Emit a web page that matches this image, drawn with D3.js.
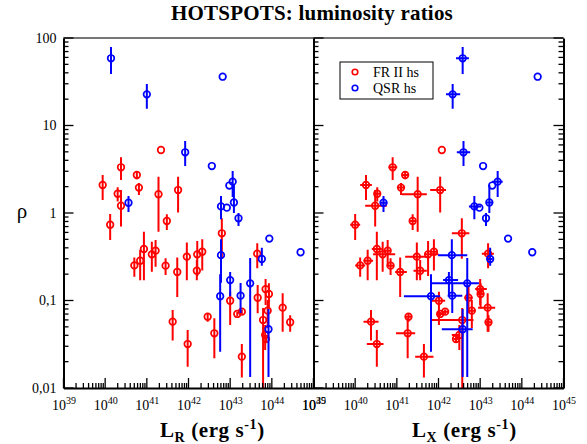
<!DOCTYPE html>
<html><head><meta charset="utf-8">
<script src="https://cdn.jsdelivr.net/npm/d3@7"></script>
<style>body{margin:0;background:#fff}svg{display:block}text{font-family:"Liberation Serif","Times New Roman",serif}</style>
</head><body><svg id="c" width="587" height="444"></svg>
<script>
// ---- data (log10 luminosities in erg/s, rho ratios) ----
const frLogLR = [39.94,40.38,40.76,41.34,40.30,40.81,41.28,41.75,40.38,40.12,41.48,42.80,40.93,41.21,41.12,40.84,40.70,41.45,41.73,41.96,42.21,42.33,42.20,43.65,41.62,41.98,42.46,42.62,43.00,43.17,43.28,43.28,43.66,43.85,43.93,43.90,43.79,43.84,43.86,44.26,44.44];
const frLogLX = [40.26,40.90,41.20,42.08,40.53,41.10,41.50,42.04,40.48,40.00,41.38,42.56,40.52,40.78,40.66,40.30,40.12,40.85,41.08,41.48,41.75,41.89,41.56,43.19,40.38,40.52,41.28,41.26,42.01,42.04,42.16,41.65,42.72,43.00,43.01,42.80,42.57,42.50,42.42,43.18,43.20];
const frLogLXLo = [40.12,40.80,41.13,42.08,40.46,41.03,41.12,41.80,40.24,39.88,41.32,42.32,40.40,40.71,40.43,40.20,40.00,40.78,40.96,41.20,41.68,41.80,41.40,43.04,40.20,40.28,41.22,40.98,41.80,41.97,42.09,41.44,42.62,42.88,42.94,42.72,41.84,42.32,42.36,42.95,43.13];
const frLogLXHi = [40.40,41.01,41.27,42.08,40.60,41.17,41.72,42.18,40.76,40.12,41.46,42.74,40.64,40.85,40.96,40.43,40.24,40.92,41.24,41.72,42.00,41.98,41.72,43.33,40.56,40.68,41.34,41.44,42.16,42.11,42.23,41.88,42.82,43.16,43.08,42.88,42.84,42.52,42.48,43.36,43.27];
const frRho   = [2.09,3.33,2.72,5.25,1.66,1.95,1.64,1.83,1.21,0.735,0.81,0.586,0.388,0.371,0.337,0.285,0.252,0.25,0.212,0.317,0.337,0.361,0.219,0.343,0.0573,0.0318,0.0653,0.0422,0.0995,0.0702,0.0745,0.0228,0.1076,0.135,0.1186,0.0766,0.0598,0.0404,0.0363,0.0828,0.0564];
const frRhoHi = [2.72,4.33,2.96,5.25,1.97,2.20,2.60,2.60,1.83,0.975,0.966,0.87,0.61,0.49,0.47,0.38,0.31,0.303,0.31,0.46,0.48,0.50,0.29,0.45,0.078,0.046,0.0715,0.0627,0.126,0.074,0.079,0.0318,0.150,0.176,0.157,0.101,0.082,0.0525,0.039,0.121,0.068];
const frRhoLo = [1.41,2.38,2.43,5.25,1.35,1.61,0.61,1.01,0.70,0.49,0.64,0.30,0.17,0.243,0.213,0.17,0.187,0.195,0.11,0.17,0.19,0.22,0.17,0.233,0.035,0.0175,0.0573,0.0219,0.0525,0.066,0.070,0.0132,0.0715,0.089,0.081,0.0485,0.005,0.0272,0.0335,0.044,0.044];

const qsLogLR = [40.14,41.00,42.82,41.92,40.56,42.56,43.06,42.98,43.09,42.78,42.92,43.20,43.94,44.69,42.78,43.76,43.48,43.00,43.25,42.76,43.92];
const qsLogLX = [42.58,42.34,44.38,42.60,40.68,43.07,43.42,43.29,43.22,42.86,42.98,43.14,43.67,44.25,42.32,43.24,42.69,42.25,42.33,41.82,42.58];
const qsLogLXLo = [42.42,42.18,44.38,42.44,40.60,43.07,43.28,43.29,43.14,42.73,42.98,43.14,43.67,44.25,41.99,43.17,41.80,42.11,42.22,41.17,42.08];
const qsLogLXHi = [42.73,42.52,44.38,42.76,40.77,43.07,43.54,43.29,43.31,43.02,42.98,43.14,43.67,44.25,42.69,43.30,42.97,42.47,42.57,42.04,42.82];
const qsRho   = [58.6,22.7,36.1,4.94,1.31,3.44,2.28,2.06,1.32,1.19,1.15,0.87,0.51,0.356,0.33,0.298,0.157,0.171,0.1135,0.112,0.0469];
const qsRhoHi = [78.9,29.8,36.1,6.65,1.56,3.44,3.02,2.06,2.09,1.56,1.15,1.0,0.51,0.356,0.50,0.40,0.306,0.212,0.158,0.20,0.08];
const qsRhoLo = [38.8,15.5,36.1,3.44,1.03,3.44,1.52,2.06,1.0,0.85,1.15,0.71,0.51,0.356,0.16,0.25,0.0134,0.112,0.072,0.026,0.0134];

const yTickValues = [0.01,0.1,1,10,100];
const yTickLabels = ["0,01","0,1","1","10","100"];
const xExponents = [39,40,41,42,43,44,45];
const seriesNames = ["FR II hs","QSR hs"];
const seriesColors = ["#ff0000","#0000ff"];

// ---- layout ----
const svg = d3.select("#c");
const yTop = 38, yBot = 388;
const y = d3.scaleLog().domain([0.01,100]).range([yBot, yTop]);
const xL = d3.scaleLog().domain([1e39,1e45]).range([63.5,313.5]);
const xR = d3.scaleLog().domain([1e39,1e45]).range([313.5,563.5]);

const minorY = [];
for (let e=-2;e<2;e++) for (let m=2;m<10;m++) minorY.push(m*Math.pow(10,e));
const minorX = [];
for (let e=39;e<45;e++) for (let m=2;m<10;m++) minorX.push(m*Math.pow(10,e));
const majorX = xExponents.map(e=>Math.pow(10,e));

// clip paths
const defs = svg.append("defs");
defs.append("clipPath").attr("id","clipL").append("rect").attr("x",63.5).attr("y",yTop).attr("width",250).attr("height",yBot-yTop);
defs.append("clipPath").attr("id","clipR").append("rect").attr("x",313.5).attr("y",yTop).attr("width",250).attr("height",yBot-yTop);

// top frame line
svg.append("line").attr("x1",63.5).attr("x2",563.5).attr("y1",yTop).attr("y2",yTop).attr("stroke","#777").attr("stroke-width",2);

// ---- data marks ----
function drawPanel(xs, clipId, withXerr){
  const g = svg.append("g").attr("clip-path",`url(#${clipId})`);
  const sets = [
    {lx: withXerr?frLogLX:frLogLR, lo: frLogLXLo, hi: frLogLXHi, r: frRho, rl: frRhoLo, rh: frRhoHi, c: seriesColors[0]},
    {lx: withXerr?qsLogLX:qsLogLR, lo: qsLogLXLo, hi: qsLogLXHi, r: qsRho, rl: qsRhoLo, rh: qsRhoHi, c: seriesColors[1]}
  ];
  sets.forEach(s=>{
    const pts = s.r.map((r,i)=>({x:Math.pow(10,s.lx[i]), xl:Math.pow(10,s.lo[i]), xh:Math.pow(10,s.hi[i]), r, rl:s.rl[i], rh:s.rh[i]}));
    const gg = g.append("g");
    gg.selectAll(".ey").data(pts.filter(p=>p.rh>p.rl)).join("line")
      .attr("x1",p=>xs(p.x)).attr("x2",p=>xs(p.x))
      .attr("y1",p=>y(p.rh)).attr("y2",p=>y(p.rl))
      .attr("stroke",s.c).attr("stroke-width",2);
    if (withXerr){
      gg.selectAll(".ex").data(pts.filter(p=>p.xh>p.xl)).join("line")
        .attr("x1",p=>xs(p.xl)).attr("x2",p=>xs(p.xh))
        .attr("y1",p=>y(p.r)).attr("y2",p=>y(p.r))
        .attr("stroke",s.c).attr("stroke-width",2);
    }
    gg.selectAll("circle").data(pts).join("circle")
      .attr("cx",p=>xs(p.x)).attr("cy",p=>y(p.r)).attr("r",3.3)
      .attr("fill","none").attr("stroke",s.c).attr("stroke-width",1.7);
  });
}
drawPanel(xL,"clipL",false);
drawPanel(xR,"clipR",true);

// ---- axes: d3 axes for domain + labels, tick marks drawn from the scales ----
const tickG = svg.append("g").attr("stroke","#000").attr("stroke-width",1.3);
function yTicks(x, dir){ // dir +1 ticks point right, -1 point left
  tickG.selectAll(null).data(minorY).join("line")
    .attr("x1",x).attr("x2",x+dir*5).attr("y1",d=>y(d)).attr("y2",d=>y(d));
  tickG.selectAll(null).data(yTickValues).join("line")
    .attr("x1",x).attr("x2",x+dir*10).attr("y1",d=>y(d)).attr("y2",d=>y(d));
}
function xTicks(xs){
  tickG.selectAll(null).data(minorX).join("line")
    .attr("y1",yBot).attr("y2",yBot-5).attr("x1",d=>xs(d)).attr("x2",d=>xs(d));
  tickG.selectAll(null).data(majorX).join("line")
    .attr("y1",yBot).attr("y2",yBot-10).attr("x1",d=>xs(d)).attr("x2",d=>xs(d));
}

function yAxis(x, leftSide, labels){
  const mk = leftSide ? d3.axisLeft : d3.axisRight;
  const g = svg.append("g").attr("transform",`translate(${x},0)`)
    .call(mk(y).tickValues(yTickValues).tickSize(0).tickSizeOuter(0).tickPadding(7)
      .tickFormat(labels ? (d,i)=>yTickLabels[i] : ""));
  g.select(".domain").attr("stroke","#000").attr("stroke-width",2);
  g.selectAll(".tick text").attr("font-size",14).attr("fill","#000")
    .attr("font-family","Liberation Serif, serif");
  yTicks(x, leftSide ? 1 : -1);
}
yAxis(63.5,true,true);
yAxis(313.5,true,false);
yAxis(563.5,false,false);

function xAxis(xs){
  const g = svg.append("g").attr("transform",`translate(0,${yBot})`)
    .call(d3.axisBottom(xs).tickValues(majorX).tickSize(0).tickSizeOuter(0).tickPadding(12));
  g.select(".domain").attr("stroke","#000").attr("stroke-width",2);
  g.selectAll(".tick text").each(function(d,i){
    const t = d3.select(this);
    t.text("10").attr("font-size",14).attr("fill","#000").attr("font-family","Liberation Serif, serif");
    t.append("tspan").attr("dy",-6).attr("font-size",10).text(xExponents[i]);
  });
  xTicks(xs);
}
xAxis(xL);
xAxis(xR);

// ---- texts ----
svg.append("text").attr("x",312).attr("y",20).attr("text-anchor","middle")
  .attr("font-size",21).attr("font-weight","bold").attr("letter-spacing",0.2)
  .text("HOTSPOTS: luminosity ratios");

svg.append("text").attr("x",22).attr("y",218).attr("text-anchor","middle")
  .attr("font-size",21).text("ρ");

function xLabel(x, sub){
  const t = svg.append("text").attr("x",x).attr("y",437).attr("text-anchor","start")
    .attr("font-size",21).attr("font-weight","bold").attr("letter-spacing",0.6);
  t.append("tspan").text("L");
  t.append("tspan").attr("dy",5).attr("font-size",14).text(sub);
  t.append("tspan").attr("dy",-5).text(" (erg s");
  t.append("tspan").attr("dy",-8).attr("font-size",14).text("-1");
  t.append("tspan").attr("dy",8).text(")");
}
xLabel(160,"R");
xLabel(412,"X");

// ---- legend ----
const lg = svg.append("g");
lg.append("rect").attr("x",340).attr("y",62).attr("width",93).attr("height",37)
  .attr("fill","#fff").attr("stroke","#000").attr("stroke-width",1);
seriesNames.forEach((n,i)=>{
  lg.append("circle").attr("cx",355).attr("cy",72+i*16).attr("r",2.8)
    .attr("fill","none").attr("stroke",seriesColors[i]).attr("stroke-width",1.6);
  lg.append("text").attr("x",373).attr("y",77+i*16).attr("font-size",14).text(n);
});
</script></body></html>
